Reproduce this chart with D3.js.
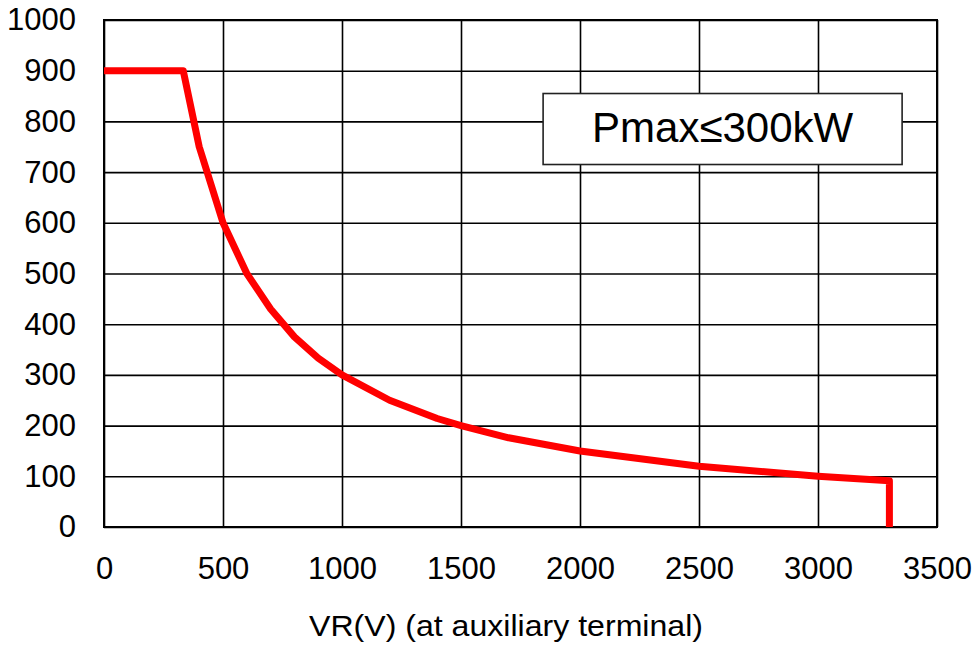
<!DOCTYPE html>
<meta charset="utf-8">
<head>
<style>
  body { margin: 0; background: #fff; }
  svg { font-family: 'Liberation Sans', Arial, sans-serif; }
  .grid line { stroke: #000; stroke-width: 1.6px; }
  .grid .domain { display: none; }
  .axis .domain { display: none; }
  .axis text { font-size: 31px; fill: #000; }
</style>
</head>
<body>
<svg width="974" height="646"></svg>
<script src="https://d3js.org/d3.v7.min.js"></script>
<script>
// voltage (V) and current (A)
var voltage = [0, 333, 400, 500, 600, 700, 800, 900, 1000, 1200, 1400, 1500, 1700, 2000, 2500, 3000, 3300, 3300];
var current = [900, 900, 750, 600, 500, 430, 375, 333, 300, 250, 214, 200, 176, 150, 120, 100, 91, 0];

var xTicks = [0, 500, 1000, 1500, 2000, 2500, 3000, 3500];
var yTicks = [0, 100, 200, 300, 400, 500, 600, 700, 800, 900, 1000];
var xTitle = "VR(V) (at auxiliary terminal)";
var boxLabel = "Pmax≤300kW";

var svg = d3.select("svg"),
    margin = {top: 20, right: 37, bottom: 119, left: 104},
    width = +svg.attr("width") - margin.left - margin.right,
    height = +svg.attr("height") - margin.top - margin.bottom;

var g = svg.append("g").attr("transform", "translate(" + margin.left + "," + margin.top + ")");

var x = d3.scaleLinear().domain([0, 3500]).range([0, width]);
var y = d3.scaleLinear().domain([0, 1000]).range([height, 0]);

// grid lines
g.append("g").attr("class", "grid")
  .call(d3.axisLeft(y).tickValues(yTicks).tickSize(-width).tickFormat(""));
g.append("g").attr("class", "grid")
  .attr("transform", "translate(0," + height + ")")
  .call(d3.axisBottom(x).tickValues(xTicks).tickSize(-height).tickFormat(""));

// frame
g.append("rect")
  .attr("width", width).attr("height", height)
  .attr("fill", "none").attr("stroke", "#000").attr("stroke-width", 2);

// tick labels
g.append("g").attr("class", "axis")
  .call(d3.axisLeft(y).tickValues(yTicks).tickSize(0).tickPadding(28).tickFormat(d3.format("d")));
g.append("g").attr("class", "axis")
  .attr("transform", "translate(0," + height + ")")
  .call(d3.axisBottom(x).tickValues(xTicks).tickSize(0).tickPadding(30).tickFormat(d3.format("d")));

// the curve
var pts = voltage.map(function(v, i) { return [v, current[i]]; });
var line = d3.line().x(d => x(d[0])).y(d => y(d[1]));
g.append("path")
  .datum(pts)
  .attr("d", line)
  .attr("fill", "none")
  .attr("stroke", "#ff0000")
  .attr("stroke-width", 7)
  .attr("stroke-linejoin", "round");

// label box
var bx = x(1845), by = y(855), bw = 359, bh = 71;
g.append("rect")
  .attr("x", bx).attr("y", by)
  .attr("width", bw).attr("height", bh)
  .attr("fill", "#fff").attr("stroke", "#222").attr("stroke-width", 1.6);
g.append("text")
  .attr("x", bx + bw / 2).attr("y", by + 48)
  .attr("text-anchor", "middle")
  .style("font-size", "42px")
  .text(boxLabel);

// axis title (the original glyphs are slightly stretched)
svg.append("text")
  .attr("x", 506).attr("y", 636)
  .attr("text-anchor", "middle")
  .attr("textLength", 394)
  .attr("lengthAdjust", "spacingAndGlyphs")
  .style("font-size", "30px")
  .text(xTitle);
</script>
</body>
